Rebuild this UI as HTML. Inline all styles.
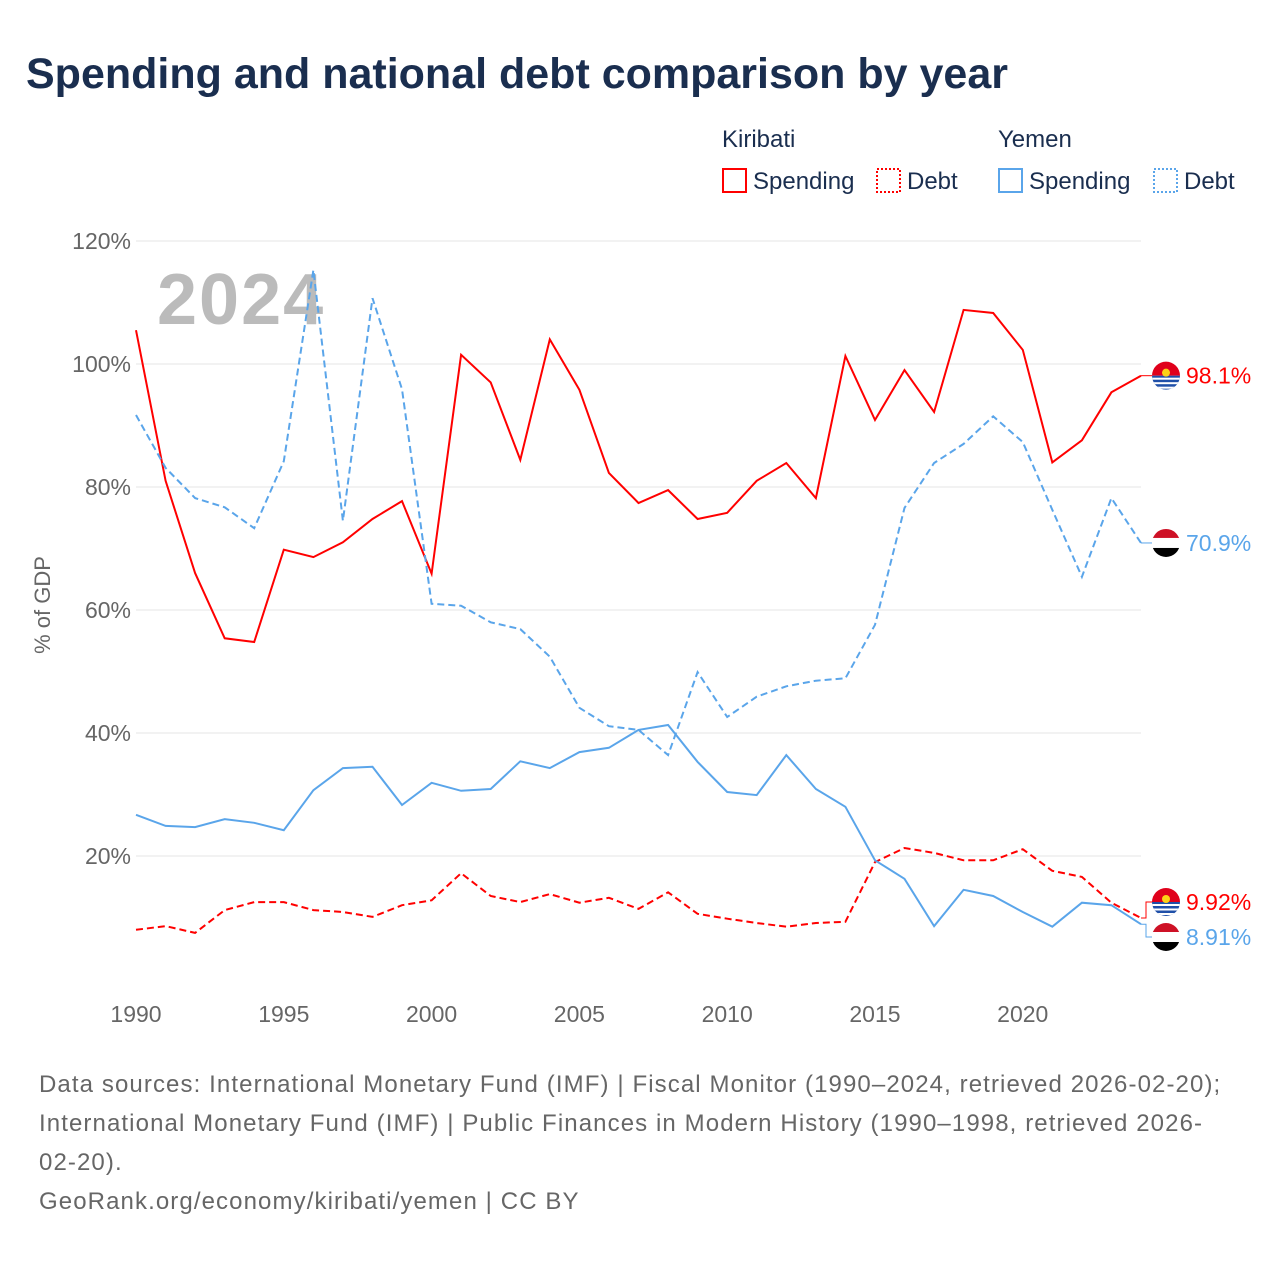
<!DOCTYPE html>
<html><head><meta charset="utf-8"><style>
body{margin:0;background:#fff;font-family:"Liberation Sans",sans-serif;}
#wrap{position:relative;width:1280px;height:1280px;overflow:hidden;}
.t{position:absolute;white-space:nowrap;}
</style></head><body>
<div id="wrap">
<div class="t" style="left:26px;top:50px;font-size:43px;font-weight:bold;color:#1a2e4f;">Spending and national debt comparison by year</div>
<svg id="chart" width="1280" height="1280" style="position:absolute;left:0;top:0"></svg>
<div class="t" style="left:39px;top:1065px;font-size:24px;letter-spacing:1.1px;line-height:39px;color:#666;white-space:normal;width:1190px;">Data sources: International Monetary Fund (IMF) | Fiscal Monitor (1990–2024, retrieved 2026-02-20); International Monetary Fund (IMF) | Public Finances in Modern History (1990–1998, retrieved 2026-02-20).<br>GeoRank.org/economy/kiribati/yemen | CC BY</div>
</div>
<script>
const years=[1990,1991,1992,1993,1994,1995,1996,1997,1998,1999,2000,2001,2002,2003,2004,2005,2006,2007,2008,2009,2010,2011,2012,2013,2014,2015,2016,2017,2018,2019,2020,2021,2022,2023,2024];
const kirSpending=[105.5,81,66,55.4,54.8,69.8,68.6,71,74.8,77.7,65.9,101.5,97,84.4,104,95.8,82.3,77.4,79.5,74.8,75.8,81,83.9,78.2,101.3,90.9,99,92.2,108.8,108.3,102.3,84,87.6,95.4,98.1];
const kirDebt=[8,8.6,7.5,11.2,12.5,12.5,11.2,10.9,10.1,12,12.8,17.2,13.5,12.5,13.8,12.4,13.2,11.4,14.1,10.6,9.8,9.1,8.5,9.1,9.3,19,21.3,20.5,19.3,19.3,21.1,17.6,16.6,12.4,9.92];
const yemSpending=[26.7,24.9,24.7,26,25.4,24.2,30.7,34.3,34.5,28.3,31.9,30.6,30.9,35.4,34.3,36.9,37.6,40.5,41.3,35.3,30.4,29.9,36.4,30.9,28,19.3,16.3,8.6,14.5,13.5,10.9,8.5,12.4,12,8.91];
const yemDebt=[91.7,83.1,78.2,76.7,73.3,84.2,115.3,74.5,110.7,95.9,61,60.7,58,56.9,52.4,44.1,41.1,40.5,36.4,49.9,42.6,45.9,47.6,48.5,48.9,57.6,76.6,83.9,87,91.5,87.3,76.3,65.4,78.2,70.9];
const yTicks=[20,40,60,80,100,120];
const xTicks=[1990,1995,2000,2005,2010,2015,2020];
const endLabels=["98.1%","9.92%","70.9%","8.91%"];

const svg=document.getElementById('chart');const NS='http://www.w3.org/2000/svg';
const X=y=>136+(y-1990)*(1141-136)/34;
const Y=v=>979-v*6.15;
function el(tag,attrs,parent){const e=document.createElementNS(NS,tag);for(const k in attrs)e.setAttribute(k,attrs[k]);(parent||svg).appendChild(e);return e;}
function txt(s,attrs){const e=el('text',attrs);e.textContent=s;e.setAttribute('font-family','"Liberation Sans",sans-serif');return e;}
yTicks.forEach(v=>{
 const g=el('line',{x1:136,x2:1141,y1:Y(v),y2:Y(v),stroke:'#e6e6e6','stroke-width':1});
 
 
 const t=txt(v+'%',{x:131,y:Y(v)+8,'text-anchor':'end','font-size':23,fill:'#666'});
 
 
});
xTicks.forEach(yr=>{
 const t=txt(String(yr),{x:X(yr),y:1022,'text-anchor':'middle','font-size':23,fill:'#666'});
 
 
});
const yt=txt('% of GDP',{x:0,y:0,transform:'translate(50,605) rotate(-90)','text-anchor':'middle','font-size':22,fill:'#666'});


const yr=txt('2024',{x:157,y:324,'font-size':72,'font-weight':'bold',fill:'#bbb','letter-spacing':2});


function series(vals,color,dash,name){
 const p=el('path',{d:vals.map((v,i)=>(i?'L':'M')+X(years[i]).toFixed(1)+','+Y(v).toFixed(1)).join(''),fill:'none',stroke:color,'stroke-width':2,'stroke-dasharray':dash||'none'});
 
 
}
series(kirSpending,'#f00',null,'line-kiribati-spending');
series(kirDebt,'#f00','7,4','line-kiribati-debt');
series(yemSpending,'#5aa5ea',null,'line-yemen-spending');
series(yemDebt,'#5aa5ea','7,4','line-yemen-debt');
function flag(cx,cy,kind,name){
 const g=el('g',{});
 
 
 const id='c'+Math.round(cy);
 const cp=el('clipPath',{id:id},g);el('circle',{cx:cx,cy:cy,r:14},cp);
 const gg=el('g',{'clip-path':'url(#'+id+')'},g);
 if(kind==='k'){el('rect',{x:cx-15,y:cy-15,width:30,height:15,fill:'#e0001b'},gg);el('rect',{x:cx-15,y:cy,width:30,height:15,fill:'#1f4fa8'},gg);
  for(let i=0;i<3;i++)el('rect',{x:cx-15,y:cy+2+i*4.5,width:30,height:2,fill:'#fff'},gg);
  el('circle',{cx:cx,cy:cy-3,r:4,fill:'#fcd116'},gg);}
 else{el('rect',{x:cx-15,y:cy-15,width:30,height:10,fill:'#ce1126'},gg);el('rect',{x:cx-15,y:cy-5,width:30,height:10,fill:'#fff'},gg);el('rect',{x:cx-15,y:cy+5,width:30,height:10,fill:'#000'},gg);}
}
const labelY=[Y(kirSpending[34]),902,Y(yemDebt[34]),937];
[[kirSpending,'#f00','k'],[kirDebt,'#f00','k'],[yemDebt,'#5aa5ea','y'],[yemSpending,'#5aa5ea','y']].forEach((e,i)=>{
 const vy=Y(e[0][34]),ly=labelY[i];
 const c=el('path',{d:`M1141,${vy} L1146,${vy} L1146,${ly} L1152,${ly}`,fill:'none',stroke:e[1],'stroke-width':1});
 
 
 flag(1166,ly,e[2],'end-flag-'+i);
 const t=txt(endLabels[i],{x:1186,y:ly+8,'font-size':23,fill:e[1]});
 
 
});
function lt(s,x,y,name){const t=txt(s,{x:x,y:y,'font-size':24,fill:'#1a2e4f'});}
lt('Kiribati',722,147,'legend-group-kiribati');lt('Yemen',998,147,'legend-group-yemen');
[[722,'#f00',null,'Spending','legend-kiribati-spending'],[876,'#f00','2,2','Debt','legend-kiribati-debt'],[998,'#5aa5ea',null,'Spending','legend-yemen-spending'],[1153,'#5aa5ea','2,2','Debt','legend-yemen-debt']].forEach(l=>{
 const r=el('rect',{x:l[0]+1,y:169,width:23,height:23,fill:'none',stroke:l[1],'stroke-width':2,'stroke-dasharray':l[2]||'none'});
 
 
 lt(l[3],l[0]+31,189,l[4]);
});
</script>
</body></html>
